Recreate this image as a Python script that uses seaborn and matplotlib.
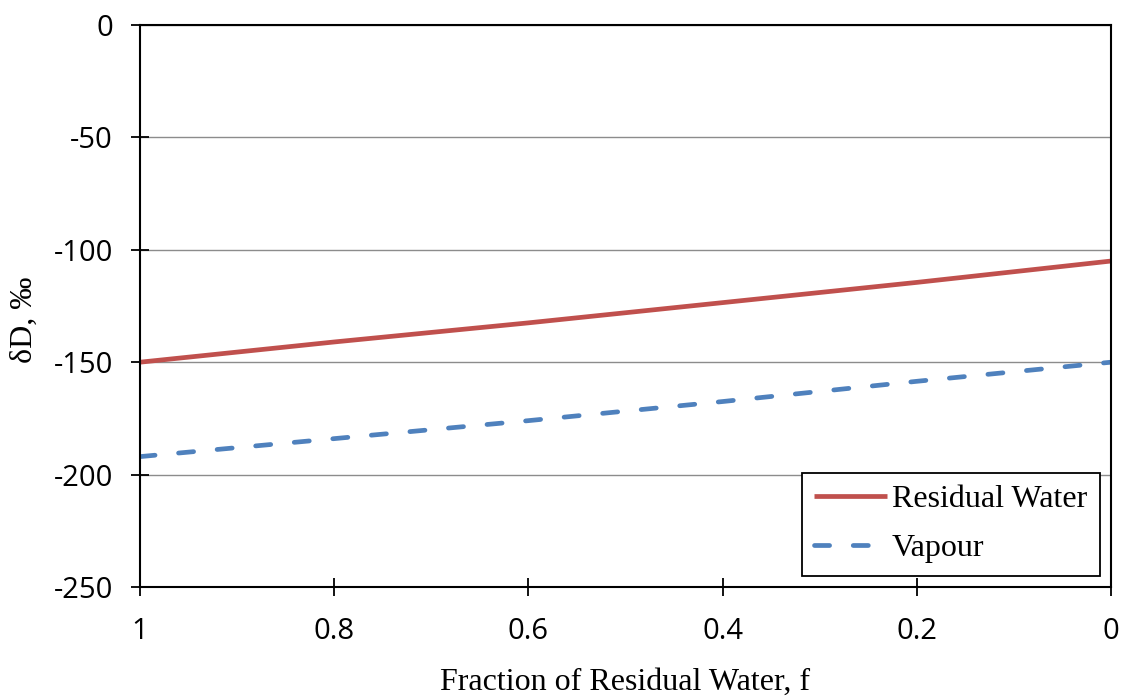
import matplotlib
matplotlib.use("Agg")
import matplotlib.pyplot as plt
import seaborn as sns
import pandas as pd

# Data
fraction = [1.0, 0.8, 0.6, 0.4, 0.2, 0.0]
residual_water = [-150.0, -141.0, -132.5, -123.5, -114.5, -105.0]
vapour = [-192.0, -184.0, -176.0, -167.5, -158.5, -150.0]
series_names = ["Residual Water", "Vapour"]
x_ticks = [1, 0.8, 0.6, 0.4, 0.2, 0]
x_tick_labels = ["1", "0.8", "0.6", "0.4", "0.2", "0"]
y_ticks = [0, -50, -100, -150, -200, -250]

sns.set_theme(style="white")
plt.rcParams["font.family"] = ["DejaVu Sans"]

df = pd.concat([
    pd.DataFrame({"f": fraction, "d": residual_water, "series": series_names[0]}),
    pd.DataFrame({"f": fraction, "d": vapour, "series": series_names[1]}),
])

fig = plt.figure(figsize=(11.23, 6.98), dpi=100)
ax = fig.add_axes([140 / 1123, 1 - 587 / 698, (1111 - 140) / 1123, (587 - 25) / 698])

palette = {"Residual Water": "#C0504D", "Vapour": "#4F81BD"}
sns.lineplot(data=df, x="f", y="d", hue="series", style="series",
             palette=palette, dashes={"Residual Water": "", "Vapour": (3.2, 5.0)},
             linewidth=3.4, ax=ax, sort=False, legend=True)
for ln in ax.get_lines():
    ln.set_dash_capstyle("round")
    ln.set_solid_capstyle("butt")

ax.set_xlim(1, 0)
ax.set_ylim(-250, 0)
ax.set_xticks(x_ticks)
ax.set_xticklabels(x_tick_labels)
ax.set_yticks(y_ticks)
ax.set_yticklabels([str(v) for v in y_ticks])

ax.yaxis.grid(True, color="#8C8C8C", linewidth=1.0)
ax.xaxis.grid(False)
ax.set_axisbelow(True)
for s in ax.spines.values():
    s.set_visible(True)
    s.set_color("black")
    s.set_linewidth(1.5)

ax.tick_params(axis="both", which="major", direction="inout", length=13, width=1.3,
               color="black", labelcolor="black", labelsize=21, pad=13,
               left=True, bottom=True)
ax.tick_params(axis="x", pad=15)
for lab in ax.get_xticklabels() + ax.get_yticklabels():
    lab.set_fontfamily(["Open Sans", "DejaVu Sans"])

serif = ["Liberation Serif", "DejaVu Serif"]
ax.set_xlabel("Fraction of Residual Water, f", fontsize=23, family=serif, color="black")
ax.set_ylabel("δD, ‰", fontsize=23, family=serif, color="black")
ax.xaxis.set_label_coords(0.5, -0.143)
ax.yaxis.set_label_coords(-0.104, 0.475)

handles, labels = ax.get_legend_handles_labels()
leg = ax.legend(handles, labels, loc="lower right", bbox_to_anchor=(1.0, 0.0),
                prop={"family": serif, "size": 23},
                frameon=True, fancybox=False, edgecolor="black", framealpha=1,
                handlelength=2.3, handletextpad=0.15, labelspacing=0.62,
                borderpad=0.38, borderaxespad=0.36)
leg.get_frame().set_linewidth(1.3)
for t in leg.get_texts():
    t.set_color("black")
for h in leg.get_lines():
    h.set_linewidth(3.4)
    h.set_dash_capstyle("round")

fig.savefig("out.png", dpi=100)
